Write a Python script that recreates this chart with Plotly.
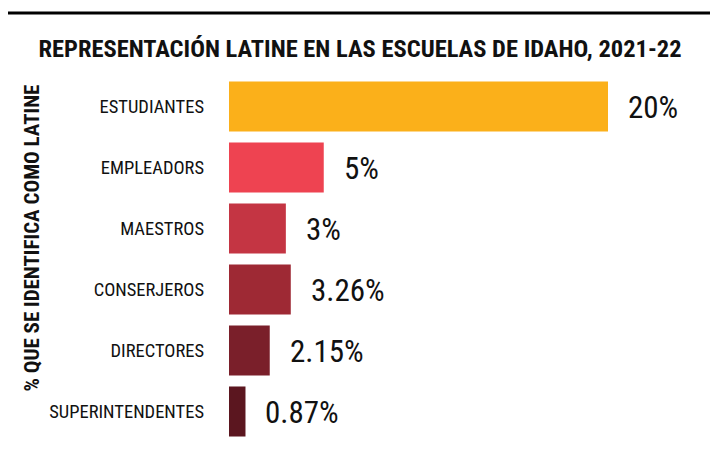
import plotly.graph_objects as go

categories = ["ESTUDIANTES", "EMPLEADORS", "MAESTROS", "CONSERJEROS", "DIRECTORES", "SUPERINTENDENTES"]
values = [20, 5, 3, 3.26, 2.15, 0.87]
value_labels = ["20%", "5%", "3%", "3.26%", "2.15%", "0.87%"]
colors = ["#FBB01A", "#EE4351", "#C43543", "#9E2934", "#7A1F2A", "#5B161F"]

title_text = "REPRESENTACIÓN LATINE EN LAS ESCUELAS DE IDAHO, 2021-22"
yaxis_title = "% QUE SE IDENTIFICA COMO LATINE"

# page body adds an 8px offset; figure is sized to fit the 718x453 window
OFF = 8
W, H = 718 - OFF, 453 - OFF
ml, mr, mt, mb = 229 - OFF, 4, 76 - OFF, 11
pw = W - ml - mr
ph = H - mt - mb

FONT = "Roboto Condensed"
INK = "#111111"

fig = go.Figure()
fig.add_trace(go.Bar(
    y=categories, x=values, orientation="h",
    marker=dict(color=colors, line=dict(width=0)),
    hoverinfo="skip",
))

annotations = []
for c, v, t in zip(categories, values, value_labels):
    annotations.append(dict(
        x=v, y=c, xref="x", yref="y", text=t, showarrow=False,
        xanchor="left", yanchor="middle", xshift=18, yshift=-1,
        font=dict(family=FONT, size=31, color=INK),
    ))

annotations.append(dict(
    x=(31.5 - ml - OFF) / pw, y=(H - mb - (238 - OFF)) / ph, xref="paper", yref="paper",
    text="<b>" + yaxis_title + "</b>", showarrow=False, textangle=-90,
    xanchor="center", yanchor="middle",
    font=dict(family=FONT, size=21, color=INK),
))

fig.update_layout(
    width=W, height=H,
    margin=dict(l=ml, r=mr, t=mt, b=mb, pad=0),
    paper_bgcolor="white", plot_bgcolor="white",
    showlegend=False,
    bargap=0.18,
    title=dict(
        text="<b>" + title_text + "</b>",
        x=(360 - OFF) / W, xanchor="center", xref="container",
        y=1 - (48 - OFF) / H, yanchor="middle", yref="container",
        font=dict(family=FONT, size=24.5, color=INK),
    ),
    xaxis=dict(range=[0, 20 * pw / 379], visible=False, fixedrange=True),
    yaxis=dict(
        categoryorder="array", categoryarray=categories, autorange="reversed",
        showgrid=False, zeroline=False, showline=False, ticks="",
        ticklabelstandoff=24,
        tickfont=dict(family=FONT, size=18.5, color=INK),
        fixedrange=True,
    ),
    annotations=annotations,
    shapes=[dict(
        type="line", xref="paper", yref="paper",
        x0=(8 - OFF - ml) / pw, x1=(712 - OFF - ml) / pw,
        y0=(H - mb - (13 - OFF)) / ph, y1=(H - mb - (13 - OFF)) / ph,
        line=dict(color="#000000", width=3),
    )],
)

fig.write_html("out.html", config={"displayModeBar": False})
